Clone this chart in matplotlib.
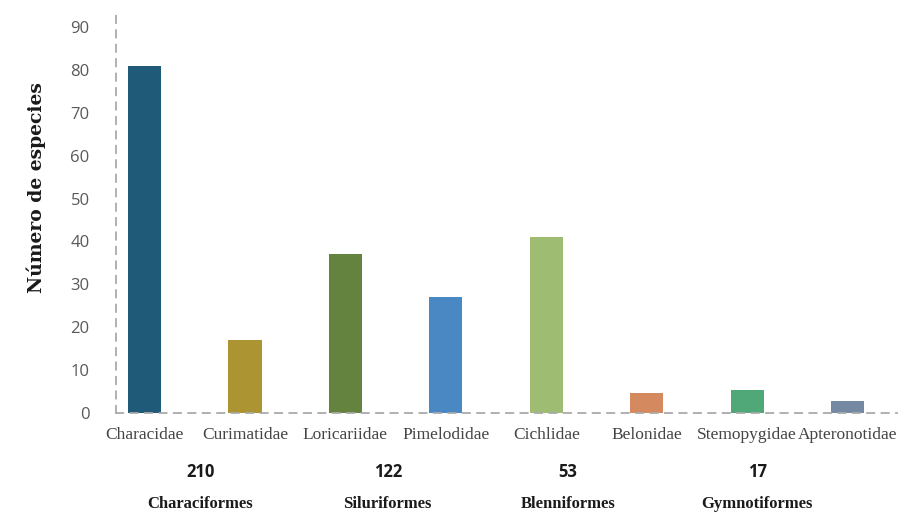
import numpy as np
import matplotlib as mpl
import matplotlib.pyplot as plt
mpl.use('agg')

# species per family, grouped by order
familias = ['Characidae', 'Curimatidae', 'Loricariidae', 'Pimelodidae',
            'Cichlidae', 'Belonidae', 'Stemopygidae', 'Apteronotidae']
especies = [81, 17, 37, 27, 41, 4.6, 5.3, 2.7]
colores = ['#1f5b78', '#ad9433', '#64833f', '#4a88c3',
           '#9ebd72', '#d4895e', '#50a878', '#7589a2']

ordenes = ['Characiformes', 'Siluriformes', 'Blenniformes', 'Gymnotiformes']
total_orden = [210, 122, 53, 17]
pos_orden = [0.108, 0.348, 0.579, 0.821]   # axes fraction, under each pair

yticks = np.arange(0, 100, 10)

fig = plt.figure(figsize=(9.1, 5.13), dpi=100)
ax = fig.add_axes([0.1275, 0.195, 0.858, 0.7855])

x = np.arange(len(familias))
ax.bar(x, especies, width=0.33, color=colores, zorder=2)

ax.set_xlim(-0.284, 7.49)
ax.set_ylim(0, 94)
ax.set_yticks(yticks)
ax.set_xticks(x)
ax.set_xticklabels(familias, family='Liberation Serif', fontsize=12.5, color='#444444')
ax.tick_params(axis='x', length=0, pad=10)
ax.tick_params(axis='y', length=0, pad=19, labelsize=12, labelcolor='#595959')
for lab in ax.get_yticklabels():
    lab.set_family('Open Sans')

for s in ['top', 'right']:
    ax.spines[s].set_visible(False)
for s in ['left', 'bottom']:
    ax.spines[s].set_linestyle((0, (4, 4)))
    ax.spines[s].set_color('#aaaaaa')
    ax.spines[s].set_linewidth(1.3)

ax.set_ylabel('Número de especies', family='DejaVu Serif', fontweight='bold',
              fontsize=13.5, color='#1a1a1a')
ax.yaxis.set_label_coords(-0.09, 0.56)

# order totals and names under the family labels
for px, nombre, tot in zip(pos_orden, ordenes, total_orden):
    ax.text(px, -0.146, str(tot), transform=ax.transAxes, ha='center', va='center',
            family='Open Sans', fontweight='bold', fontsize=12, color='#1a1a1a')
    ax.text(px, -0.227, nombre, transform=ax.transAxes, ha='center', va='center',
            family='Liberation Serif', fontweight='bold', fontsize=12, color='#1a1a1a')

fig.savefig('out.png', dpi=100)
